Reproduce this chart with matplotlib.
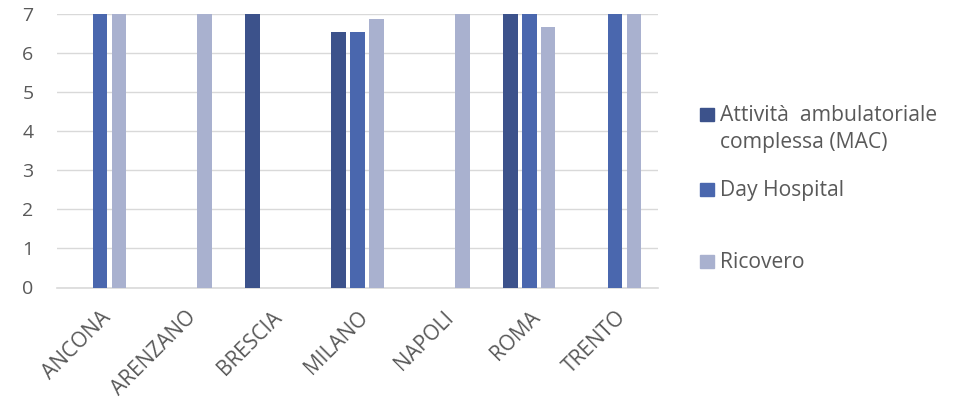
import matplotlib
matplotlib.use("Agg")
import matplotlib.pyplot as plt
import numpy as np
from matplotlib.patches import Rectangle

plt.rcParams["font.family"] = ["Open Sans", "DejaVu Sans"]

cities = ["ANCONA", "ARENZANO", "BRESCIA", "MILANO", "NAPOLI", "ROMA", "TRENTO"]
series_names = ["Attività  ambulatoriale\ncomplessa (MAC)", "Day Hospital", "Ricovero"]
mac = [0, 0, 7, 6.55, 0, 7, 0]
day_hospital = [7, 0, 0, 6.55, 0, 7, 7]
ricovero = [7, 7, 0, 6.87, 7, 6.67, 7]
colors = ["#3C528B", "#4A67AE", "#A9B1CF"]
text_color = "#595959"

W, H = 962, 400
fig = plt.figure(figsize=(W / 100, H / 100), dpi=100)
ax = fig.add_axes([57 / W, 1 - 287.5 / H, (658 - 57) / W, (287.5 - 14) / H])

x = np.arange(len(cities))
width = 0.17
step = 0.22
for i, (vals, col) in enumerate(zip([mac, day_hospital, ricovero], colors)):
    ax.bar(x + (i - 1) * step, vals, width, color=col, zorder=3)

ax.set_xlim(-0.5, len(cities) - 0.5)
ax.set_ylim(0, 7)
ax.set_yticks(range(0, 8))
ax.grid(axis="y", color="#D9D9D9", linewidth=1.0, zorder=0)
for side in ["top", "right", "left"]:
    ax.spines[side].set_visible(False)
ax.spines["bottom"].set_color("#D9D9D9")
ax.spines["bottom"].set_linewidth(1.2)
ax.tick_params(length=0, colors=text_color)
ax.tick_params(axis="y", pad=17, labelsize=14)
ax.set_xticks(x)
ax.set_xticklabels(cities, rotation=45, ha="right", rotation_mode="anchor")
ax.tick_params(axis="x", pad=14, labelsize=15)

# legend drawn by hand so the entries sit at their own heights
squares_y = [108, 183, 255]
for name, col, sy in zip(series_names, colors, squares_y):
    fig.add_artist(Rectangle((700 / W, 1 - (sy + 13) / H), 14 / W, 13 / H,
                             transform=fig.transFigure, color=col))
    for k, line in enumerate(name.split("\n")):
        fig.text(720 / W, 1 - (sy + 13 + 27 * k) / H, line, color=text_color,
                 fontsize=15.2, va="baseline", ha="left")

fig.savefig("out.png", dpi=100)
